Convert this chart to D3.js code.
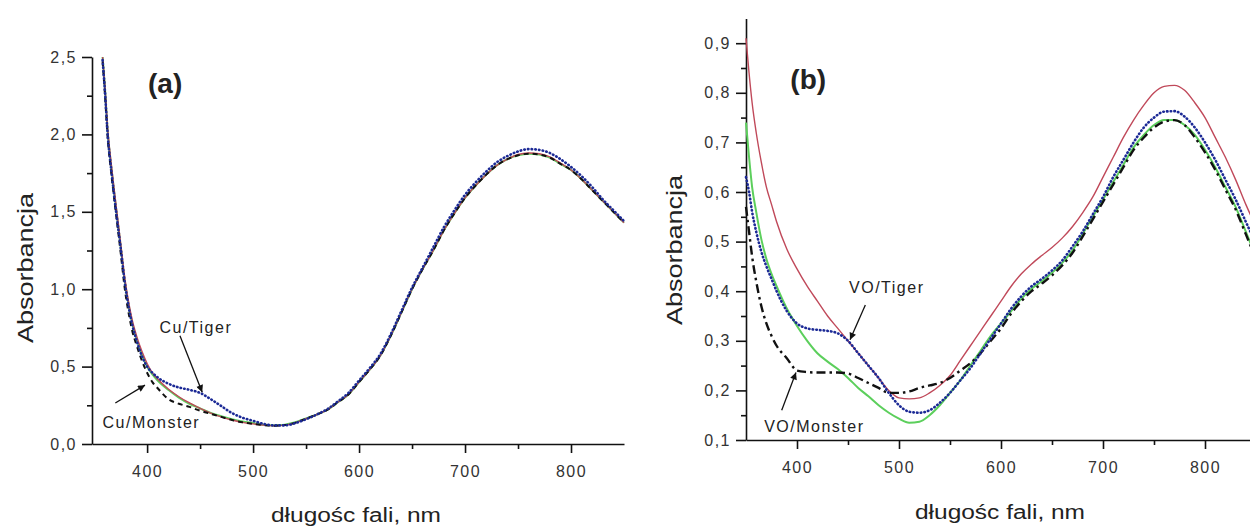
<!DOCTYPE html>
<meta charset="utf-8">
<style>
body { margin: 0; background: #fff; }
svg { display: block; background: #fff; font-family: "Liberation Sans", Arial, sans-serif; }
.axis path, .axis line { fill: none; stroke: #111; stroke-width: 1.6; }
.axis text { font-size: 16px; fill: #333; letter-spacing: 1.5px; }
.lbl { fill: #222; }
.curve { fill: none; }
</style>
<svg width="1250" height="529"></svg>
<script src="https://d3js.org/d3.v7.min.js"></script>
<script>

// panel (a): Cu samples
var wlA = [358, 360, 363, 366, 369, 372, 375, 379, 383, 386, 390, 395, 400, 405, 410, 420, 430, 440, 450, 460, 470, 480, 490, 500,
  510, 520, 530, 540, 550, 560, 570, 580, 590, 600, 610, 620, 630, 640, 650, 660, 670, 680, 690, 700, 710, 720, 730, 740,
  750, 760, 770, 780, 790, 800, 810, 820, 830, 840, 850];
var greenA = [2.50, 2.32, 2.00, 1.80, 1.62, 1.45, 1.28, 1.05, 0.88, 0.78, 0.68, 0.58, 0.50, 0.45, 0.41, 0.35, 0.30, 0.26, 0.23, 0.20, 0.18, 0.16, 0.145, 0.135,
  0.125, 0.12, 0.125, 0.14, 0.165, 0.19, 0.22, 0.27, 0.32, 0.40, 0.48, 0.57, 0.70, 0.85, 1.00, 1.13, 1.25, 1.38, 1.49, 1.59, 1.67, 1.74, 1.80, 1.84,
  1.865, 1.875, 1.87, 1.85, 1.81, 1.77, 1.71, 1.64, 1.57, 1.50, 1.43];
var redA = [2.50, 2.33, 2.02, 1.82, 1.64, 1.47, 1.30, 1.07, 0.90, 0.80, 0.70, 0.60, 0.52, 0.46, 0.42, 0.355, 0.305, 0.265, 0.23, 0.20, 0.175, 0.155, 0.14, 0.13,
  0.122, 0.118, 0.122, 0.138, 0.163, 0.19, 0.22, 0.27, 0.32, 0.40, 0.48, 0.57, 0.70, 0.85, 1.00, 1.13, 1.25, 1.38, 1.49, 1.59, 1.67, 1.74, 1.80, 1.84,
  1.87, 1.88, 1.875, 1.855, 1.815, 1.77, 1.71, 1.64, 1.57, 1.50, 1.43];
var blueA = [2.48, 2.30, 1.98, 1.78, 1.60, 1.43, 1.27, 1.04, 0.87, 0.77, 0.67, 0.57, 0.50, 0.46, 0.43, 0.39, 0.365, 0.35, 0.33, 0.29, 0.245, 0.20, 0.17, 0.15,
  0.13, 0.12, 0.12, 0.135, 0.16, 0.19, 0.225, 0.275, 0.33, 0.41, 0.49, 0.58, 0.71, 0.86, 1.01, 1.14, 1.27, 1.40, 1.51, 1.61, 1.69, 1.76, 1.82, 1.86,
  1.89, 1.905, 1.90, 1.88, 1.84, 1.79, 1.73, 1.66, 1.58, 1.51, 1.44];
var blackA = [2.47, 2.28, 1.96, 1.76, 1.58, 1.41, 1.24, 1.00, 0.83, 0.73, 0.64, 0.54, 0.46, 0.40, 0.36, 0.29, 0.26, 0.24, 0.215, 0.195, 0.175, 0.155, 0.14, 0.13,
  0.122, 0.118, 0.122, 0.138, 0.163, 0.19, 0.22, 0.27, 0.32, 0.40, 0.48, 0.57, 0.70, 0.85, 1.00, 1.13, 1.25, 1.38, 1.49, 1.59, 1.67, 1.74, 1.80, 1.84,
  1.865, 1.875, 1.87, 1.85, 1.81, 1.77, 1.71, 1.64, 1.57, 1.50, 1.43];

// panel (b): VO samples
var wlB = [350, 353, 356, 360, 365, 370, 375, 380, 390, 400, 410, 420, 430, 440, 450, 460, 470, 480, 490, 500,
  510, 520, 530, 540, 550, 560, 570, 580, 590, 600, 610, 620, 630, 640, 650, 660, 670, 680, 690, 700,
  710, 720, 730, 740, 750, 760, 770, 780, 790, 800, 810, 820, 830, 840, 850];
var redB = [0.91, 0.84, 0.78, 0.72, 0.66, 0.61, 0.575, 0.54, 0.485, 0.445, 0.41, 0.38, 0.35, 0.325, 0.30, 0.275, 0.25, 0.225, 0.20, 0.185,
  0.183, 0.185, 0.195, 0.21, 0.23, 0.26, 0.29, 0.32, 0.35, 0.38, 0.41, 0.435, 0.455, 0.472, 0.488, 0.507, 0.53, 0.558, 0.59, 0.63,
  0.67, 0.71, 0.745, 0.775, 0.80, 0.813, 0.815, 0.805, 0.78, 0.75, 0.71, 0.67, 0.625, 0.575, 0.53];
var greenB = [0.74, 0.67, 0.61, 0.56, 0.505, 0.465, 0.435, 0.41, 0.365, 0.33, 0.30, 0.275, 0.258, 0.243, 0.225, 0.205, 0.188, 0.17, 0.155, 0.143,
  0.135, 0.137, 0.15, 0.17, 0.195, 0.22, 0.25, 0.28, 0.31, 0.335, 0.36, 0.385, 0.405, 0.42, 0.437, 0.457, 0.482, 0.515, 0.55, 0.585,
  0.62, 0.655, 0.69, 0.715, 0.735, 0.745, 0.745, 0.735, 0.715, 0.685, 0.65, 0.61, 0.57, 0.52, 0.47];
var blueB = [0.63, 0.60, 0.56, 0.52, 0.48, 0.45, 0.425, 0.40, 0.36, 0.335, 0.325, 0.322, 0.32, 0.315, 0.30, 0.275, 0.25, 0.225, 0.195, 0.17,
  0.157, 0.155, 0.16, 0.175, 0.195, 0.22, 0.245, 0.275, 0.305, 0.335, 0.365, 0.39, 0.41, 0.425, 0.442, 0.462, 0.49, 0.52, 0.555, 0.59,
  0.63, 0.665, 0.70, 0.73, 0.75, 0.762, 0.763, 0.752, 0.73, 0.70, 0.665, 0.625, 0.585, 0.54, 0.495];
var blackB = [0.57, 0.52, 0.47, 0.42, 0.37, 0.335, 0.31, 0.29, 0.265, 0.24, 0.237, 0.236, 0.236, 0.236, 0.234, 0.225, 0.215, 0.205, 0.195, 0.195,
  0.198, 0.205, 0.21, 0.215, 0.225, 0.24, 0.255, 0.275, 0.30, 0.325, 0.355, 0.38, 0.40, 0.415, 0.432, 0.452, 0.477, 0.51, 0.545, 0.58,
  0.615, 0.65, 0.685, 0.71, 0.73, 0.742, 0.745, 0.735, 0.71, 0.68, 0.645, 0.605, 0.565, 0.515, 0.465];

var xTicks = [400, 500, 600, 700, 800],
    xMinor = [450, 550, 650, 750],
    yTicksA = [0, 0.5, 1.0, 1.5, 2.0, 2.5],
    yMinorA = [0.25, 0.75, 1.25, 1.75, 2.25],
    yTicksB = [0.1, 0.2, 0.3, 0.4, 0.5, 0.6, 0.7, 0.8, 0.9],
    yMinorB = [0.15, 0.25, 0.35, 0.45, 0.55, 0.65, 0.75, 0.85];

// annotations: [text, textWl, textAbs, arrowFromWl, arrowFromAbs, arrowToWl, arrowToAbs]
var notesA = [["Cu/Tiger", 446, 0.717, 431, 0.70, 452, 0.335],
              ["Cu/Monster", 404, 0.103, 370, 0.265, 398, 0.38]];
var notesB = [["VO/Tiger", 488, 0.396, 467, 0.372, 452, 0.302],
              ["VO/Monster", 417, 0.116, 385, 0.16, 399, 0.236]];

var styles = {
  red:   {stroke: "#c0495a", width: 1.4, dash: null, cap: "butt"},
  green: {stroke: "#5ccf5c", width: 2, dash: null, cap: "butt"},
  blue:  {stroke: "#1c2a96", width: 2.6, dash: "0.5,3.2", cap: "round"},
  blackA: {stroke: "#111", width: 2, dash: "5,4", cap: "butt"},
  blackB: {stroke: "#111", width: 2.4, dash: "9,4,2.5,4", cap: "butt"}
};

var svg = d3.select("svg");
var fmt = function(d) { return d3.format(".1f")(d).replace(".", ","); };

svg.append("defs").append("marker")
    .attr("id", "arr")
    .attr("viewBox", "0 0 10 10")
    .attr("refX", 10).attr("refY", 5)
    .attr("markerWidth", 9).attr("markerHeight", 7)
    .attr("markerUnits", "userSpaceOnUse")
    .attr("orient", "auto")
  .append("path")
    .attr("d", "M0,0L10,5L0,10Z")
    .attr("fill", "#111");

function panel(cfg) {
  var x = d3.scaleLinear().domain(cfg.xDomain).range(cfg.xRange),
      y = d3.scaleLinear().domain(cfg.yDomain).range(cfg.yRange);
  var g = svg.append("g");

  // minor ticks first
  g.append("g").attr("class", "axis")
      .attr("transform", "translate(0," + cfg.yRange[0] + ")")
      .call(d3.axisBottom(x).tickValues(xMinor).tickSize(5).tickFormat(""))
      .select(".domain").remove();
  g.append("g").attr("class", "axis")
      .attr("transform", "translate(" + cfg.xRange[0] + ",0)")
      .call(d3.axisLeft(y).tickValues(cfg.yMinor).tickSize(5).tickFormat(""))
      .select(".domain").remove();

  g.append("g").attr("class", "axis")
      .attr("transform", "translate(0," + cfg.yRange[0] + ")")
      .call(d3.axisBottom(x).tickValues(xTicks).tickSizeInner(9).tickSizeOuter(0).tickPadding(13).tickFormat(d3.format("d")));
  g.append("g").attr("class", "axis")
      .attr("transform", "translate(" + cfg.xRange[0] + ",0)")
      .call(d3.axisLeft(y).tickValues(cfg.yTicks).tickSizeInner(10).tickSizeOuter(0).tickPadding(5).tickFormat(fmt));

  var line = d3.line()
      .x(function(d) { return x(d[0]); })
      .y(function(d) { return y(d[1]); })
      .curve(d3.curveMonotoneX);

  cfg.series.forEach(function(s) {
    var st = styles[s.style];
    g.append("path")
        .datum(d3.zip(cfg.wl, s.values))
        .attr("class", "curve")
        .attr("d", line)
        .attr("stroke", st.stroke)
        .attr("stroke-width", st.width)
        .attr("stroke-dasharray", st.dash)
        .attr("stroke-linecap", st.cap);
  });

  cfg.notes.forEach(function(n) {
    g.append("line")
        .attr("x1", x(n[3])).attr("y1", y(n[4]))
        .attr("x2", x(n[5])).attr("y2", y(n[6]))
        .attr("stroke", "#111").attr("stroke-width", 1.3)
        .attr("marker-end", "url(#arr)");
    g.append("text")
        .attr("class", "lbl")
        .attr("x", x(n[1])).attr("y", y(n[2]))
        .attr("text-anchor", "middle")
        .style("font-size", "16px")
        .style("letter-spacing", "1.5px")
        .attr("fill", "#333")
        .text(n[0]);
  });

  g.append("text")
      .attr("x", x(cfg.tag[1])).attr("y", y(cfg.tag[2]))
      .attr("text-anchor", "middle")
      .style("font-size", "28px").style("font-weight", "bold")
      .attr("fill", "#222")
      .text(cfg.tag[0]);

  g.append("text")
      .attr("class", "lbl")
      .attr("transform", "translate(" + cfg.yLabelPos[0] + "," + cfg.yLabelPos[1] + ") rotate(-90)")
      .attr("text-anchor", "middle")
      .attr("textLength", 150).attr("lengthAdjust", "spacingAndGlyphs")
      .style("font-size", "22px")
      .text("Absorbancja");

  g.append("text")
      .attr("class", "lbl")
      .attr("x", cfg.xLabelPos[0]).attr("y", cfg.xLabelPos[1])
      .attr("text-anchor", "middle")
      .attr("textLength", 170).attr("lengthAdjust", "spacingAndGlyphs")
      .style("font-size", "20px")
      .text("długośc fali, nm");
}

panel({
  xDomain: [348, 850], xRange: [92, 624],
  yDomain: [0, 2.5], yRange: [444, 57],
  yTicks: yTicksA, yMinor: yMinorA,
  wl: wlA,
  series: [{values: greenA, style: "green"}, {values: redA, style: "red"},
           {values: blackA, style: "blackA"}, {values: blueA, style: "blue"}],
  notes: notesA,
  tag: ["(a)", 417, 2.27],
  yLabelPos: [33, 268],
  xLabelPos: [356, 522]
});

panel({
  xDomain: [350, 850], xRange: [746, 1256],
  yDomain: [0.1, 0.95], yRange: [440, 18.4],
  yTicks: yTicksB, yMinor: yMinorB,
  wl: wlB,
  series: [{values: redB, style: "red"}, {values: greenB, style: "green"},
           {values: blackB, style: "blackB"}, {values: blueB, style: "blue"}],
  notes: notesB,
  tag: ["(b)", 411, 0.808],
  yLabelPos: [682, 250],
  xLabelPos: [1000, 519]
});

</script>
